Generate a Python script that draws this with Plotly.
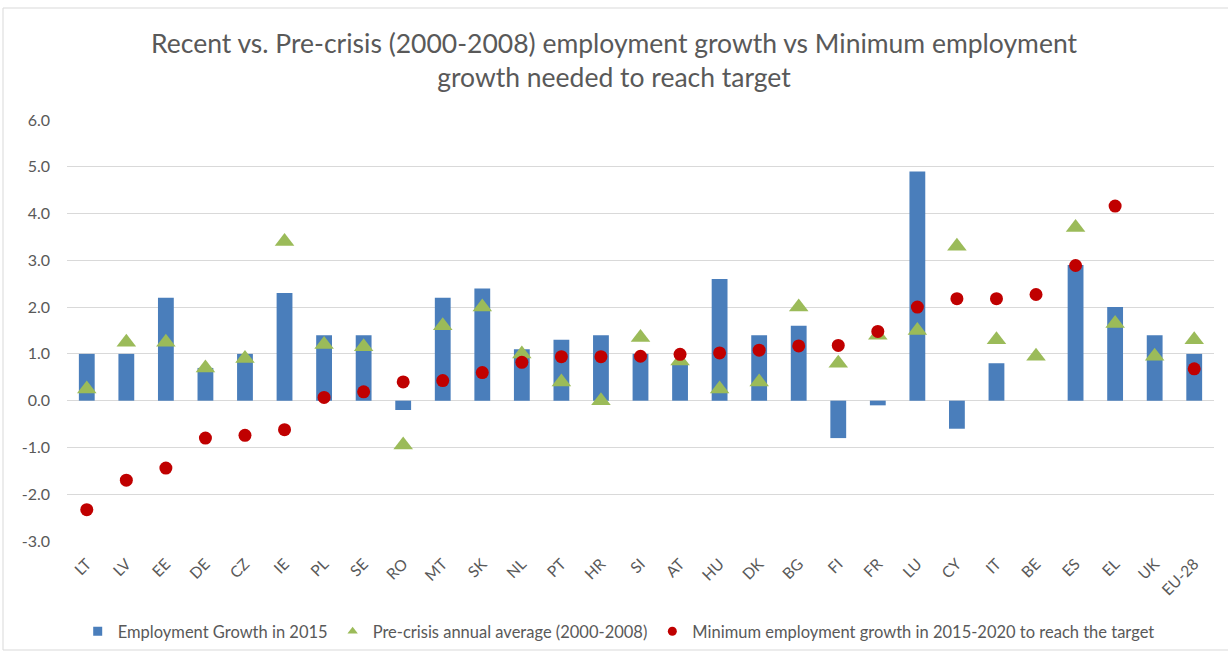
import plotly.graph_objects as go

countries = ["LT", "LV", "EE", "DE", "CZ", "IE", "PL", "SE", "RO", "MT", "SK", "NL",
             "PT", "HR", "SI", "AT", "HU", "DK", "BG", "FI", "FR", "LU", "CY", "IT",
             "BE", "ES", "EL", "UK", "EU-28"]

growth_2015 = [1.0, 1.0, 2.2, 0.7, 1.0, 2.3, 1.4, 1.4, -0.2, 2.2, 2.4, 1.1,
               1.3, 1.4, 1.0, 0.8, 2.6, 1.4, 1.6, -0.8, -0.1, 4.9, -0.6, 0.8,
               0.0, 2.9, 2.0, 1.4, 1.0]

pre_crisis_avg = [0.25, 1.25, 1.25, 0.7, 0.9, 3.4, 1.2, 1.15, -0.95, 1.6, 2.0, 1.0,
                  0.4, 0.0, 1.35, 0.85, 0.25, 0.4, 2.0, 0.8, 1.4, 1.5, 3.3, 1.3,
                  0.95, 3.7, 1.65, 0.95, 1.3]

min_growth_needed = [-2.33, -1.7, -1.44, -0.8, -0.74, -0.62, 0.07, 0.19, 0.4, 0.43, 0.6, 0.82,
                     0.94, 0.94, 0.95, 0.99, 1.02, 1.08, 1.17, 1.18, 1.48, 2.0, 2.18, 2.18,
                     2.27, 2.89, 4.16, None, 0.68]

series_names = ["Employment Growth in 2015",
                "Pre-crisis annual average (2000-2008)",
                "Minimum employment growth in 2015-2020 to reach the target"]

title_text = ("Recent vs. Pre-crisis (2000-2008) employment growth vs Minimum employment"
              "<br>growth needed to reach target")

y_ticks = [-3, -2, -1, 0, 1, 2, 3, 4, 5, 6]
y_tick_labels = [f"{v:.1f}" for v in y_ticks]

BLUE = "#4A7EBB"
GREEN = "#9BBB59"
RED = "#C00000"
GREY_TEXT = "#595959"
FONT = "Lato, Open Sans, sans-serif"

fig = go.Figure()

# data traces (kept out of the legend; small legend keys are added below)
fig.add_trace(go.Bar(
    x=countries, y=growth_2015, name=series_names[0], showlegend=False,
    marker=dict(color=BLUE, line=dict(width=0)), width=0.4,
))
fig.add_trace(go.Scatter(
    x=countries, y=pre_crisis_avg, name=series_names[1], mode="markers", showlegend=False,
    marker=dict(symbol="triangle-up", size=17, color=GREEN),
))
fig.add_trace(go.Scatter(
    x=countries, y=min_growth_needed, name=series_names[2], mode="markers", showlegend=False,
    marker=dict(symbol="circle", size=13, color=RED),
))

# compact legend keys
legend_symbols = ["square", "triangle-up", "circle"]
legend_colors = [BLUE, GREEN, RED]
for name, sym, col in zip(series_names, legend_symbols, legend_colors):
    fig.add_trace(go.Scatter(
        x=[None], y=[None], name=name, mode="markers",
        marker=dict(symbol=sym, size=9, color=col),
    ))

fig.update_layout(
    width=1228, height=657,
    margin=dict(l=67, r=14, t=120, b=116, autoexpand=False),
    paper_bgcolor="white", plot_bgcolor="white",
    font=dict(family=FONT, color=GREY_TEXT, size=15),
    title=dict(text=title_text, x=0.5, xanchor="center", y=0.92, yanchor="top",
               font=dict(family=FONT, size=26.5, color=GREY_TEXT)),
    showlegend=True,
    legend=dict(orientation="h", x=0.481, xanchor="center", y=-0.215, yanchor="middle",
                font=dict(family=FONT, size=16.5, color=GREY_TEXT),
                itemwidth=30, tracegroupgap=0),
    bargap=0.6,
    xaxis=dict(type="category", categoryorder="array", categoryarray=countries,
               range=[-0.5, len(countries) - 0.5],
               tickangle=-45, showgrid=False, showline=False, ticks="", automargin=False,
               tickfont=dict(size=15.5, color=GREY_TEXT), ticklabelstandoff=10),
    yaxis=dict(range=[-3, 6], tickvals=y_ticks, ticktext=y_tick_labels, automargin=False,
               showgrid=True, gridcolor="#D9D9D9", gridwidth=1,
               zeroline=True, zerolinecolor="#D9D9D9", zerolinewidth=1,
               showline=False, ticks="", tickfont=dict(size=16, color=GREY_TEXT),
               ticklabelstandoff=16),
    shapes=[dict(type="rect", xref="paper", yref="paper",
                 x0=-64 / 1147, x1=1212 / 1147 + 0.001, y0=-109 / 421, y1=1 + 112 / 421,
                 line=dict(color="#D9D9D9", width=1), fillcolor="rgba(0,0,0,0)",
                 layer="below")],
)

fig.write_html("out.html")
